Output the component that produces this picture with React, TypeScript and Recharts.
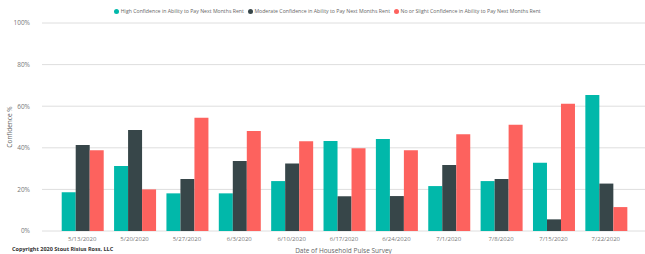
import { Bar, BarChart, CartesianGrid, XAxis, YAxis, Label } from "recharts"

const dates = [
  "5/13/2020", "5/20/2020", "5/27/2020", "6/3/2020", "6/10/2020", "6/17/2020",
  "6/24/2020", "7/1/2020", "7/8/2020", "7/15/2020", "7/22/2020",
]
const highConfidence = [18.6, 31.2, 18.1, 18.1, 24.0, 43.3, 44.2, 21.6, 24.0, 32.8, 65.4]
const moderateConfidence = [41.3, 48.6, 25.0, 33.7, 32.5, 16.7, 16.8, 31.7, 25.0, 5.6, 22.8]
const slightConfidence = [38.8, 20.0, 54.5, 48.1, 43.1, 39.8, 38.8, 46.5, 51.1, 61.2, 11.5]
const yTicks = [0, 20, 40, 60, 80, 100]

const series = [
  { key: "high", name: "High Confidence in Ability to Pay Next Months Rent", color: "#01B8AA" },
  { key: "moderate", name: "Moderate Confidence in Ability to Pay Next Months Rent", color: "#374649" },
  { key: "slight", name: "No or Slight Confidence in Ability to Pay Next Months Rent", color: "#FD625E" },
]

const data = dates.map((date, i) => ({
  date,
  high: highConfidence[i],
  moderate: moderateConfidence[i],
  slight: slightConfidence[i],
}))

const font = "'Open Sans', 'Segoe UI', sans-serif"

function LegendRow() {
  return (
    <div
      style={{
        position: "absolute",
        top: 7,
        left: 0,
        width: 645,
        display: "flex",
        justifyContent: "center",
        paddingLeft: 14,
        boxSizing: "border-box",
        fontFamily: font,
        fontSize: 5.2,
        color: "#666",
        lineHeight: "8px",
      }}
    >
      {series.map((s) => (
        <div key={s.key} style={{ display: "flex", alignItems: "center", marginRight: 4 }}>
          <span
            style={{
              width: 5,
              height: 5,
              borderRadius: "50%",
              background: s.color,
              display: "inline-block",
              marginRight: 1.5,
            }}
          />
          {s.name}
        </div>
      ))}
    </div>
  )
}

export default function App() {
  return (
    <div style={{ position: "absolute", top: 0, left: 0, width: 645, height: 254, background: "#fff" }}>
      <LegendRow />
      <BarChart
        width={645}
        height={254}
        data={data}
        margin={{ top: 23, right: 0, bottom: 0, left: 0 }}
        barCategoryGap="10.9%"
        barGap={0}
      >
        <CartesianGrid vertical={false} stroke="#dedede" strokeWidth={1} />
        <XAxis
          dataKey="date"
          axisLine={false}
          tickLine={false}
          padding={{ left: 14, right: 13 }}
          interval={0}
          height={23}
          tick={{ fill: "#777", fontSize: 6, fontFamily: font }}
          tickMargin={0}
        >
          <Label
            value="Date of Household Pulse Survey"
            position="insideBottom"
            offset={1}
            style={{ fill: "#666", fontSize: 6.5, fontFamily: font }}
          />
        </XAxis>
        <YAxis
          domain={[0, 100]}
          ticks={yTicks}
          axisLine={false}
          tickLine={false}
          width={42}
          tickFormatter={(v) => `${v}%`}
          tick={{ fill: "#777", fontSize: 6.5, fontFamily: font }}
          tickMargin={6}
        >
          <Label
            value="Confidence %"
            angle={-90}
            position="insideLeft"
            offset={10}
            style={{ fill: "#666", fontSize: 6.5, fontFamily: font, textAnchor: "middle" }}
          />
        </YAxis>
        {series.map((s) => (
          <Bar key={s.key} dataKey={s.key} name={s.name} fill={s.color} isAnimationActive={false} />
        ))}
      </BarChart>
      <div
        style={{
          position: "absolute",
          left: 12,
          top: 245,
          fontFamily: font,
          fontSize: 5.5,
          fontWeight: 700,
          color: "#333",
          lineHeight: "8px",
          whiteSpace: "nowrap",
        }}
      >
        Copyright 2020 Stout Risius Ross, LLC
      </div>
    </div>
  )
}
